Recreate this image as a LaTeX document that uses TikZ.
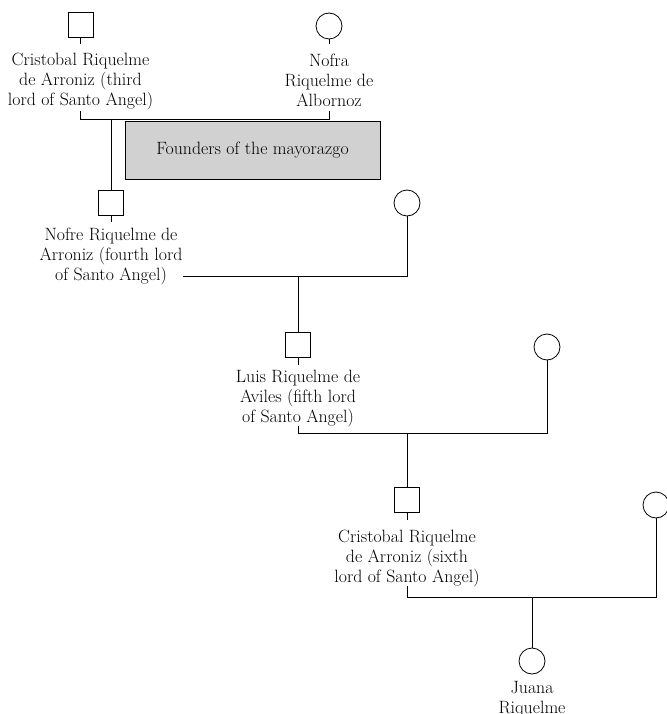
\documentclass[tikz,border=0pt]{standalone}
\usetikzlibrary{positioning}
\tikzset{
  MaleStyle/.style = { draw, rectangle, minimum size=25pt, inner sep=0pt },
  FemaleStyle/.style = { draw, circle, minimum size=26pt, inner sep=0pt },
  LabelStyle/.style = { align=center, inner sep=0pt, text depth=4pt,
    font = \fontsize{17.8}{20}\selectfont },
  FounderStyle/.style = { draw, fill=black!18, minimum width=255pt,
    minimum height=58pt, font = \fontsize{17.8}{20}\selectfont },
  EdgeStyle/.style = { line width=0.8pt } }

\begin{document}
\begin{tikzpicture}[x=1pt,y=-1pt,line width=0.8pt]
  \useasboundingbox (0,0) rectangle (666,714);
  \node[FounderStyle] (B) at (252.5,150) {Founders of the mayorazgo};
  \node[MaleStyle] (M1) at (80.5,25) {};
  \node[FemaleStyle] (F1) at (329,26) {};
  \node[MaleStyle] (M2) at (111,203) {};
  \node[FemaleStyle] (F2) at (407,203) {};
  \node[MaleStyle] (M3) at (298,345) {};
  \node[FemaleStyle] (F3) at (547,347) {};
  \node[MaleStyle] (M4) at (407,500) {};
  \node[FemaleStyle] (F4) at (656,505) {};
  \node[FemaleStyle] (F5) at (532,661) {};
  \node[LabelStyle, below=15pt of M1] (L1) {Cristobal Riquelme\\de Arroniz (third\\lord of Santo Angel)};
  \node[LabelStyle, below=14pt of F1] (N1) {Nofra\\Riquelme de\\Albornoz};
  \node[LabelStyle, below=12pt of M2] (L2) {Nofre Riquelme de\\Arroniz (fourth lord\\of Santo Angel)};
  \node[LabelStyle, below=12pt of M3] (L3) {Luis Riquelme de\\Aviles (fifth lord\\of Santo Angel)};
  \node[LabelStyle, below=17pt of M4] (L4) {Cristobal Riquelme\\de Arroniz (sixth\\lord of Santo Angel)};
  \node[LabelStyle, below=7pt of F5] (L5) {Juana\\Riquelme};
  \coordinate (U1) at (111,119.5);
  \coordinate (U2) at (298,276);
  \coordinate (U3) at (407,433);
  \coordinate (U4) at (532,597);
  \foreach \a/\b/\s in {M1/L1/9,F1/N1/9,M2/L2/6,M3/L3/5,M4/L4/10}
    \draw[EdgeStyle, shorten >=\s pt] (\a) -- (\b);
  \draw[EdgeStyle] (L1.south |- U1) ++(0,-8) -- (L1.south |- U1)
    -- (N1.south |- U1) -- ++(0,-8);
  \draw[EdgeStyle] (U1) -- (M2);
  \draw[EdgeStyle] (L2.east |- U2) -| (F2);
  \draw[EdgeStyle] (U2) -- (M3);
  \draw[EdgeStyle] (L3.south |- U3) ++(0,-7) -- (L3.south |- U3) -| (F3);
  \draw[EdgeStyle] (U3) -- (M4);
  \draw[EdgeStyle] (L4.south |- U4) ++(0,-11) -- (L4.south |- U4) -| (F4);
  \draw[EdgeStyle] (U4) -- (F5);
\end{tikzpicture}
\end{document}
